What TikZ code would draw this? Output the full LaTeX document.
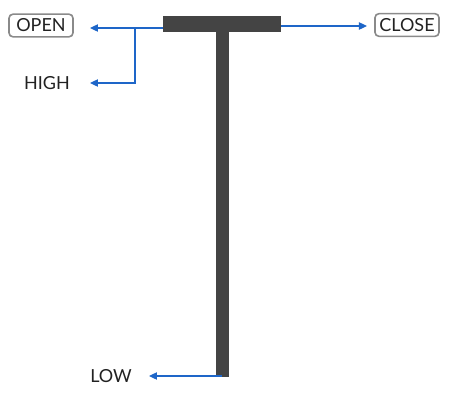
\documentclass[tikz,border=0pt]{standalone}
\usepackage{fontspec}
\setmainfont{Lato}
\usetikzlibrary{arrows.meta}
\definecolor{barc}{HTML}{444444}
\definecolor{arrc}{HTML}{1E66C8}
\definecolor{boxc}{HTML}{8A8A8A}
\definecolor{txtc}{HTML}{222222}
\begin{document}
\begin{tikzpicture}[x=0.75pt,y=-0.75pt,
  bar/.style={draw=none,fill=barc,inner sep=0,outer sep=0},
  lbl/.style={font=\fontsize{13.5}{15}\selectfont,text=txtc,inner sep=0},
  tag/.style={lbl,draw=boxc,line width=1.2pt,rounded corners=3pt,minimum width=48pt,minimum height=17pt,inner xsep=2pt},
  arr/.style={draw=arrc,line width=0.9pt,-{Triangle[length=6pt,width=5.5pt]}}]
\useasboundingbox (0,0) rectangle (462,411);
\node[bar,minimum width=88.5pt,minimum height=12pt] (top) at (222,24) {};
\node[bar,minimum width=9.75pt,minimum height=258.75pt,anchor=north] (stem) at (222.5,32) {};
\node[tag] (open) at (41,25.5) {OPEN};
\node[tag] (close) at (407,25) {CLOSE};
\node[lbl] (high) at (47,83) {HIGH};
\node[lbl] (low) at (111,376) {LOW};
\coordinate (ostart) at (163,28);
\coordinate (branch) at (135,28);
\coordinate (cstart) at (281,26);
\coordinate (lstart) at (222,376);
\coordinate (otip) at (90,28);
\coordinate (htip) at (90,83);
\coordinate (ctip) at (367,26);
\coordinate (ltip) at (149,376);
\draw[arr] (ostart) -- (otip);
\draw[arr] (branch) |- (htip);
\draw[arr] (cstart) -- (ctip);
\draw[arr] (lstart) -- (ltip);
\end{tikzpicture}
\end{document}
